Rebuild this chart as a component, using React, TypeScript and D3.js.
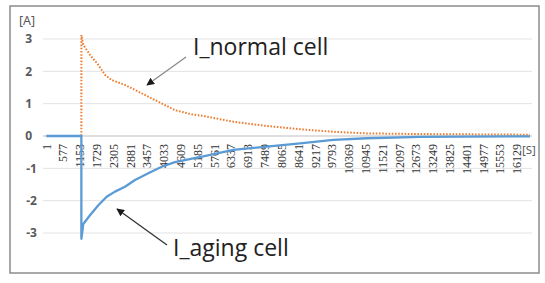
import React from "react";
import * as d3 from "d3";

const xTickLabels = d3.range(1, 16130, 576);
const yTicks = [3, 2, 1, 0, -1, -2, -3];

const normalT = [1, 1199, 1200, 1265, 1495, 1780, 2009, 2239, 2694, 3267, 3836, 4408, 4981, 5378, 6406, 7551, 8692, 9833, 10977, 12804, 16574];
const normalV = [0, 0, 3.12, 2.82, 2.51, 2.2, 1.89, 1.73, 1.58, 1.32, 1.06, 0.8, 0.67, 0.62, 0.44, 0.31, 0.21, 0.13, 0.08, 0.06, 0.04];

const agingT = [1, 1199, 1200, 1265, 1495, 1780, 2067, 2352, 2694, 3037, 3493, 3952, 4408, 4864, 5378, 6406, 7551, 8692, 9833, 10977, 12804, 16574];
const agingV = [0, 0, -3.18, -2.72, -2.45, -2.14, -1.88, -1.72, -1.57, -1.36, -1.15, -0.95, -0.81, -0.72, -0.63, -0.43, -0.33, -0.23, -0.12, -0.07, -0.03, -0.01];

const W = 545;
const H = 283;
const plotLeft = 43;
const plotRight = 532;

export default function App() {
  const x = d3.scaleLinear().domain([1, 16642]).range([46.4, plotRight]);
  const y = d3.scaleLinear().domain([-3, 3]).range([233, 39]);
  const line = d3
    .line<[number, number]>()
    .x((d) => x(d[0]))
    .y((d) => y(d[1]));
  const normal = normalT.map((t, i) => [t, normalV[i]] as [number, number]);
  const aging = agingT.map((t, i) => [t, agingV[i]] as [number, number]);

  return (
    <svg
      width={W}
      height={H}
      style={{ position: "absolute", left: 0, top: 0, background: "#fff" }}
    >
      <defs>
        <marker id="ahGray" viewBox="0 0 10 10" refX="9" refY="5" markerWidth="6" markerHeight="6" orient="auto">
          <path d="M0,0 L10,5 L0,10 z" fill="#1a1a1a" />
        </marker>
        <marker id="ahDark" viewBox="0 0 10 10" refX="9" refY="5" markerWidth="6" markerHeight="6" orient="auto">
          <path d="M0,0 L10,5 L0,10 z" fill="#1a1a1a" />
        </marker>
      </defs>
      <rect x={10} y={6} width={529} height={267} fill="#fff" stroke="#8c8c8c" strokeWidth={1.5} />
      {yTicks.map((v) => (
        <line key={v} x1={plotLeft} x2={plotRight} y1={y(v)} y2={y(v)} stroke={v === 0 ? "#bfbfbf" : "#e3e3e3"} strokeWidth={1} />
      ))}
      {yTicks.map((v) => (
        <text
          key={"t" + v}
          x={v < 0 ? 37 : 32}
          y={y(v)}
          dy="0.35em"
          textAnchor="end"
          fontFamily="'Noto Sans', sans-serif"
          fontWeight="bold"
          fontSize={12}
          fill="#595959"
        >
          {v}
        </text>
      ))}
      <text x={19} y={25} fontFamily="'Noto Sans', sans-serif" fontSize={12.5} fill="#595959">
        [A]
      </text>
      {xTickLabels.map((t) => (
        <text
          key={"x" + t}
          transform={`translate(${x(t)},144) rotate(-90)`}
          dy="0.35em"
          textAnchor="end"
          fontFamily="'Liberation Serif', serif"
          fontSize={12}
          fill="#333"
        >
          {t}
        </text>
      ))}
      <text x={522} y={154} fontFamily="'Noto Sans', sans-serif" fontSize={11.5} fill="#595959">
        [S]
      </text>
      <path d={line(normal) || ""} fill="none" stroke="#ED7D31" strokeWidth={2} strokeDasharray="1.6 1.6" />
      <path d={line(aging) || ""} fill="none" stroke="#5B9BD5" strokeWidth={2.3} strokeLinejoin="round" />
      <line x1={186} y1={57} x2={147} y2={85} stroke="#8a8a8a" strokeWidth={1.3} markerEnd="url(#ahGray)" />
      <line x1={167} y1={245} x2={117} y2={209} stroke="#333" strokeWidth={1.3} markerEnd="url(#ahDark)" />
      <text x={193} y={55} fontFamily="'Open Sans', sans-serif" fontSize={23} fill="#222">
        I_normal cell
      </text>
      <text x={173} y={256} fontFamily="'Open Sans', sans-serif" fontSize={23} fill="#222">
        I_aging cell
      </text>
    </svg>
  );
}
